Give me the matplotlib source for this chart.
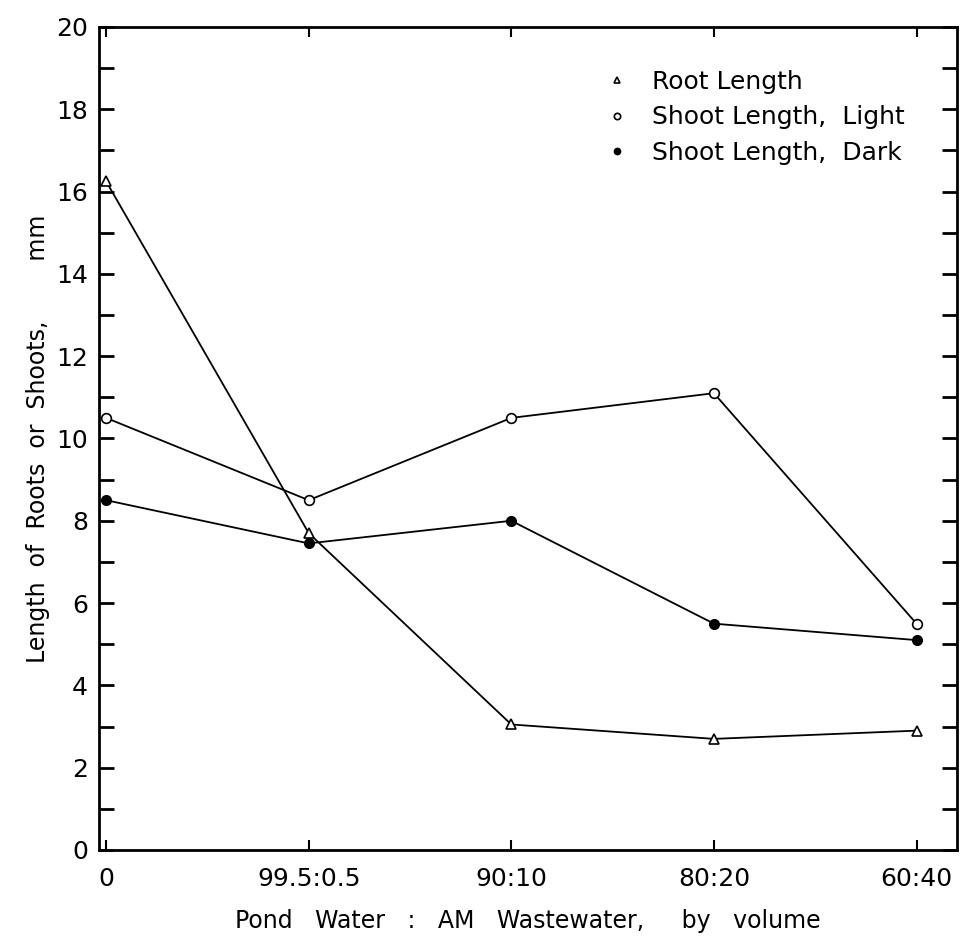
import matplotlib.pyplot as plt
from matplotlib.ticker import MultipleLocator

# ratios of pond water to wastewater
ratios = ["0", "99.5:0.5", "90:10", "80:20", "60:40"]
root_length = [16.25, 7.7, 3.05, 2.7, 2.9]
shoot_light = [10.5, 8.5, 10.5, 11.1, 5.5]
shoot_dark = [8.5, 7.45, 8.0, 5.5, 5.1]

x = list(range(len(ratios)))

fig = plt.figure(figsize=(9.63, 9.36), dpi=100)
ax = fig.add_axes([0.1028, 0.0919, 0.891, 0.8793])

ax.plot(x, root_length, color="black", lw=1.3, marker="^", ms=7,
        mfc="white", mec="black", mew=1.2, label="Root Length")
ax.plot(x, shoot_light, color="black", lw=1.3, marker="o", ms=7,
        mfc="white", mec="black", mew=1.2, label="Shoot Length,  Light")
ax.plot(x, shoot_dark, color="black", lw=1.3, marker="o", ms=7,
        mfc="black", mec="black", label="Shoot Length,  Dark")

ax.set_xlim(-0.035, 4.2)
ax.set_ylim(0, 20)
ax.set_xticks(x)
ax.set_xticklabels(ratios)
ax.yaxis.set_major_locator(MultipleLocator(2))
ax.yaxis.set_minor_locator(MultipleLocator(1))

ax.tick_params(axis="y", which="both", direction="in", left=True, right=True,
               length=11, width=2, labelsize=18, pad=8)
ax.tick_params(axis="x", direction="in", top=True, length=7, width=1.5,
               labelsize=18, pad=12)
for s in ax.spines.values():
    s.set_linewidth(2)

ax.set_xlabel("Pond   Water   :   AM   Wastewater,     by   volume",
              fontsize=17, labelpad=13)
ax.set_ylabel("Length  of  Roots  or  Shoots,        mm", fontsize=17, labelpad=4)

ax.legend(loc="upper left", bbox_to_anchor=(0.578, 0.975), frameon=False,
          fontsize=18, handlelength=0, handletextpad=1.4, markerscale=0.65,
          labelspacing=0.45)

fig.savefig("out.png", dpi=100)
